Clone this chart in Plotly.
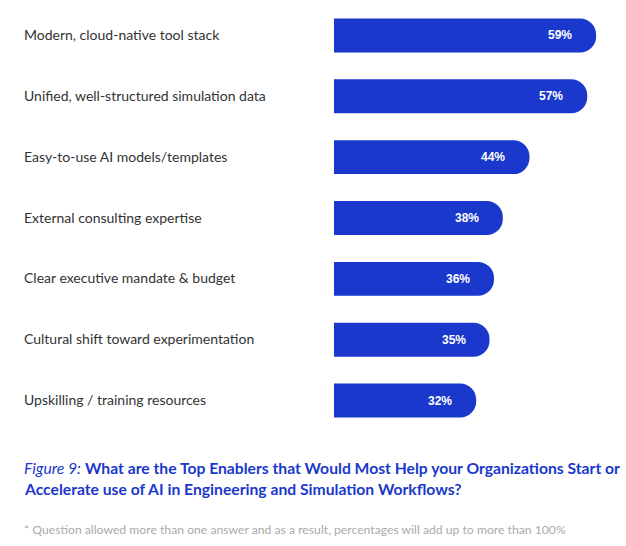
import plotly.graph_objects as go

categories = [
    "Modern, cloud-native tool stack",
    "Unified, well-structured simulation data",
    "Easy-to-use AI models/templates",
    "External consulting expertise",
    "Clear executive mandate & budget",
    "Cultural shift toward experimentation",
    "Upskilling / training resources",
]
values = [59, 57, 44, 38, 36, 35, 32]
value_labels = [f"{v}%" for v in values]

BLUE = "#1a38cc"
W, H = 626, 546
ML, MR, MT, MB = 334, 10, 4.5, 114.5
PW = W - ML - MR
PH = H - MT - MB


def py(y):
    return (H - MB - y) / PH


def px(x):
    return (x - ML) / PW


fig = go.Figure()
fig.add_trace(go.Bar(
    y=categories,
    x=values,
    orientation="h",
    marker=dict(color=BLUE, cornerradius=17, line=dict(width=0)),
    hoverinfo="skip",
))

annotations = []
for c in categories:
    annotations.append(dict(
        x=px(22), xref="paper", y=c, yref="y", xanchor="left", yanchor="middle",
        yshift=1, text=c, showarrow=False,
        font=dict(family="Lato", size=14, color="#333333"),
    ))
for c, v, t in zip(categories, values, value_labels):
    annotations.append(dict(
        x=v, xref="x", y=c, yref="y", xanchor="right", yanchor="middle",
        xshift=-22, text=f"<b>{t}</b>", showarrow=False,
        font=dict(family="Liberation Sans, Arial", size=12, color="white"),
    ))

annotations.append(dict(
    x=px(22), xref="paper", y=py(469), yref="paper", xanchor="left", yanchor="middle",
    text="<i>Figure 9:</i> <b>What are the Top Enablers that Would Most Help your Organizations Start or</b>",
    showarrow=False, font=dict(family="Lato", size=15.7, color=BLUE),
))
annotations.append(dict(
    x=px(22), xref="paper", y=py(490), yref="paper", xanchor="left", yanchor="middle",
    text="<b>Accelerate use of AI in Engineering and Simulation Workflows?</b>",
    showarrow=False, font=dict(family="Lato", size=15.7, color=BLUE),
))
annotations.append(dict(
    x=px(22), xref="paper", y=py(530), yref="paper", xanchor="left", yanchor="middle",
    text="* Question allowed more than one answer and as a result, percentages will add up to more than 100%",
    showarrow=False, font=dict(family="Lato", size=12.2, color="#aaaaaa"),
))

fig.update_layout(
    width=W, height=H,
    margin=dict(l=ML, r=MR, t=MT, b=MB, pad=0),
    paper_bgcolor="white", plot_bgcolor="white",
    bargap=0.443,
    showlegend=False,
    xaxis=dict(range=[0, PW / 4.443], visible=False, fixedrange=True),
    yaxis=dict(autorange="reversed", showticklabels=False, showgrid=False,
               zeroline=False, showline=False, ticks="", fixedrange=True),
    annotations=annotations,
)

fig.write_html(
    "out.html",
    config={"displayModeBar": False},
    post_script="document.body.style.margin='0px';document.body.style.overflow='hidden';",
)
